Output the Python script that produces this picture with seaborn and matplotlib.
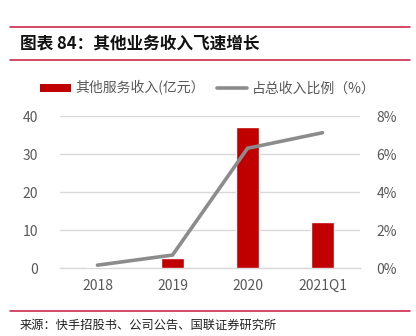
import matplotlib
matplotlib.use("Agg")
import matplotlib.pyplot as plt
import seaborn as sns
import pandas as pd
from matplotlib.patches import Patch
from matplotlib.lines import Line2D
from matplotlib.ticker import FuncFormatter, MultipleLocator

# Data
years = ["2018", "2019", "2020", "2021Q1"]
other_revenue = [0.25, 2.55, 37.0, 12.0]        # 亿元
revenue_share = [0.0015, 0.0068, 0.063, 0.0712]  # share of total revenue

bar_label = "其他服务收入(亿元）"
line_label = "占总收入比例（%）"
title_text = "图表 84：其他业务收入飞速增长"
source_text = "来源：快手招股书、公司公告、国联证券研究所"

sns.set_theme(style="white")
plt.rcParams["font.family"] = ["Noto Sans CJK SC", "DejaVu Sans"]

df = pd.DataFrame({"year": years, "revenue": other_revenue, "share": revenue_share})

RED = "#C00000"
GREY_LINE = "#8C8C8C"
TICK = "#595959"
RULE = "#C8193C"

fig = plt.figure(figsize=(4.16, 3.36), dpi=100)
ax = fig.add_axes([60 / 416, (336 - 268) / 336, 300 / 416, 152 / 336])

sns.barplot(data=df, x="year", y="revenue", color=RED, width=0.31,
            saturation=1, ax=ax, zorder=3)
ax.set_ylim(0, 40)
ax.set_xlim(-0.5, 3.5)
ax.yaxis.set_major_locator(MultipleLocator(10))
ax.grid(axis="y", color="#D9D9D9", linewidth=1)
ax.set_axisbelow(True)
for s in ["top", "right", "left"]:
    ax.spines[s].set_visible(False)
ax.spines["bottom"].set_color("#D9D9D9")
ax.spines["bottom"].set_linewidth(1)
ax.set_xlabel("")
ax.set_ylabel("")
ax.tick_params(axis="both", length=0, labelsize=10, colors=TICK, pad=8)
ax.tick_params(axis="y", pad=16)

ax2 = ax.twinx()
sns.lineplot(data=df, x="year", y="share", color=GREY_LINE, linewidth=2.6,
             ax=ax2, solid_capstyle="round", zorder=4)
ax2.set_ylim(0, 0.08)
ax2.yaxis.set_major_locator(MultipleLocator(0.02))
ax2.yaxis.set_major_formatter(FuncFormatter(lambda v, p: f"{v * 100:.0f}%"))
for s in ["top", "right", "left", "bottom"]:
    ax2.spines[s].set_visible(False)
ax2.set_ylabel("")
ax2.tick_params(axis="y", length=0, labelsize=10, colors=TICK, pad=12)

handles = [
    Patch(facecolor=RED, edgecolor="none"),
    Line2D([0], [0], color=GREY_LINE, linewidth=2.6, solid_capstyle="round"),
]
fig.legend(handles, [bar_label, line_label], loc="center",
           bbox_to_anchor=(0.5, (336 - 88) / 336), ncol=2, frameon=False,
           fontsize=10, labelcolor=TICK, handlelength=2.2, handleheight=0.5,
           columnspacing=0.85, handletextpad=0.35)

# Header and footer rules
for y in (27, 60, 311):
    fig.add_artist(Line2D([10 / 416, 410 / 416], [(336 - y) / 336] * 2,
                          color=RULE, linewidth=1.1))

fig.text(20 / 416, (336 - 44) / 336, title_text, fontsize=12,
         fontweight="bold", style="italic", color="#111111", va="center")
fig.text(20 / 416, (336 - 325) / 336, source_text, fontsize=8.8,
         color="#222222", va="center")

fig.savefig("out.png", dpi=100)
